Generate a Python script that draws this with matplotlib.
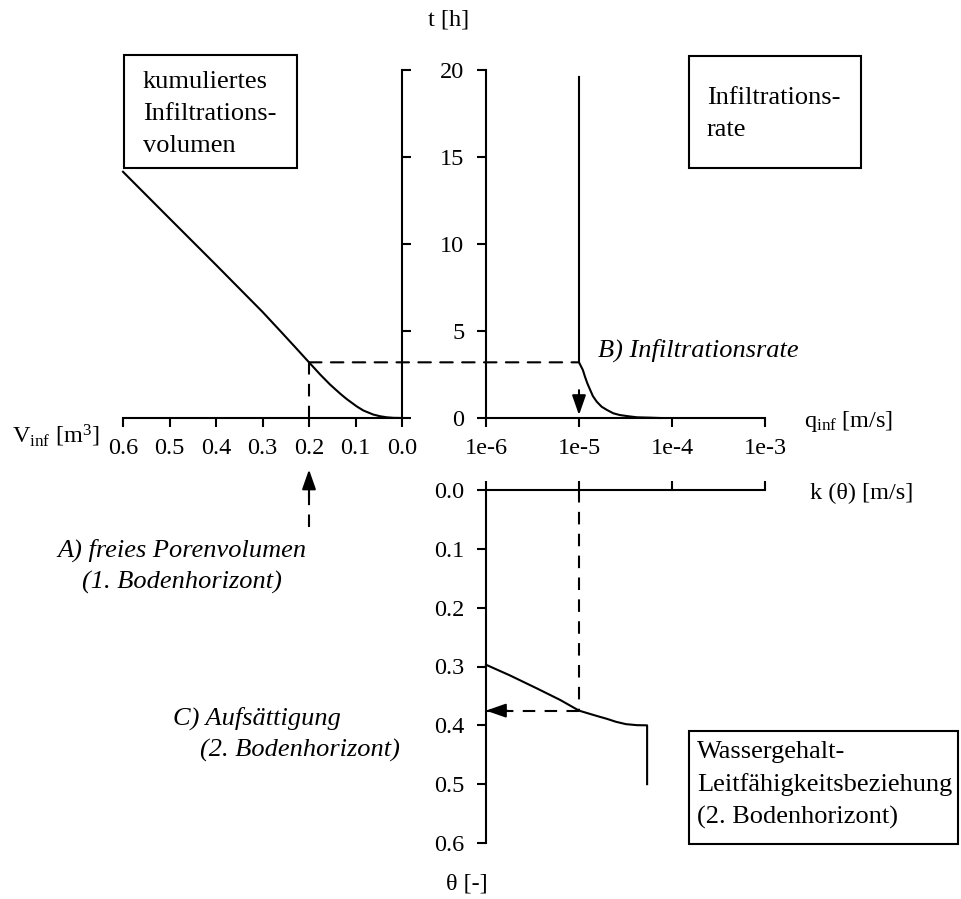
import matplotlib
matplotlib.use("Agg")
import matplotlib.pyplot as plt
from matplotlib.patches import ConnectionPatch, Rectangle
from matplotlib.ticker import NullLocator

# cumulative infiltration volume V_inf [m3] over time t [h]
V_CUM = [0.6, 0.5, 0.4, 0.3, 0.26, 0.23, 0.2, 0.176, 0.155, 0.133, 0.119,
         0.097, 0.083, 0.062, 0.047, 0.033, 0.019, 0.0]
T_CUM = [14.15, 11.47, 8.8, 6.1, 4.95, 4.08, 3.2, 2.5, 1.93, 1.40, 1.09,
         0.66, 0.43, 0.20, 0.10, 0.04, 0.01, 0.0]

# infiltration rate q_inf [m/s] over time t [h]
T_RATE = [19.6, 3.2, 2.76, 2.37, 1.99, 1.61, 1.26, 0.94, 0.65, 0.46, 0.27,
          0.17, 0.10, 0.04, 0.02, 0.0]
Q_RATE = [1e-5, 1e-5, 1.10e-5, 1.16e-5, 1.23e-5, 1.32e-5, 1.41e-5, 1.55e-5,
          1.75e-5, 2.0e-5, 2.34e-5, 2.75e-5, 3.4e-5, 4.2e-5, 5.75e-5, 7.4e-5]

# water content / conductivity relation of the 2nd soil horizon
K_THETA = [1e-6, 1.8e-6, 3.5e-6, 6.3e-6, 1e-5, 1.55e-5, 2.0e-5, 2.5e-5,
           3.2e-5, 4.2e-5, 5.4e-5, 5.4e-5]
THETA = [0.297, 0.315, 0.337, 0.357, 0.375, 0.384, 0.389, 0.394,
         0.398, 0.3997, 0.4, 0.5]

# read-off path A -> B -> C
V_PORE = 0.2
T_READ = 3.2
Q_READ = 1e-5
THETA_READ = 0.375

V_TICKS = [0.6, 0.5, 0.4, 0.3, 0.2, 0.1, 0.0]
T_TICKS = [0, 5, 10, 15, 20]
Q_TICKS = [1e-6, 1e-5, 1e-4, 1e-3]
Q_LABELS = ["1e-6", "1e-5", "1e-4", "1e-3"]
THETA_TICKS = [0.0, 0.1, 0.2, 0.3, 0.4, 0.5, 0.6]

W, H = 961, 899
LW = 1.5
DASH = (0, (6, 4.5))
TICK_FS = 17.5
TEXT_FS = 19

plt.rcParams.update({
    "font.family": "Liberation Serif",
    "mathtext.fontset": "custom",
    "mathtext.rm": "Liberation Serif",
    "mathtext.it": "Liberation Serif:italic",
})


def rect(left, top, right, bottom):
    return [left / W, 1 - bottom / H, (right - left) / W, (bottom - top) / H]


def fxy(x, y):
    return x / W, 1 - y / H


def style(ax, sides):
    for side, sp in ax.spines.items():
        sp.set_visible(side in sides)
        sp.set_linewidth(LW)
    ax.patch.set_visible(False)
    ax.tick_params(direction="out", length=6.5, width=LW, labelsize=TICK_FS, pad=8)


def head(ax, tip, base, trans):
    ax.annotate("", xy=tip, xycoords=trans, xytext=base, textcoords=trans,
                arrowprops=dict(arrowstyle="-|>,head_length=1.2,head_width=0.42",
                                mutation_scale=10, color="black", lw=LW,
                                shrinkA=0, shrinkB=0),
                annotation_clip=False)


fig = plt.figure(figsize=(W / 100, H / 100), dpi=100)

ax_v = fig.add_axes(rect(123, 70, 402, 418))
ax_q = fig.add_axes(rect(486, 70, 765, 418))
ax_k = fig.add_axes(rect(486, 490, 765, 843))

# cumulative volume, axis reversed so that it grows to the left
style(ax_v, ("bottom", "right"))
ax_v.plot(V_CUM, T_CUM, color="black", lw=LW, clip_on=False)
ax_v.set_xlim(0.6, 0.0)
ax_v.set_ylim(0, 20)
ax_v.set_xticks(V_TICKS, [f"{v:.1f}" for v in V_TICKS])
ax_v.yaxis.tick_right()
ax_v.set_yticks(T_TICKS)
ax_v.tick_params(axis="y", labelright=False)

# infiltration rate
style(ax_q, ("bottom", "left"))
ax_q.plot(Q_RATE, T_RATE, color="black", lw=LW, clip_on=False)
ax_q.set_xscale("log")
ax_q.set_xlim(1e-6, 1e-3)
ax_q.set_ylim(0, 20)
ax_q.set_xticks(Q_TICKS, Q_LABELS)
ax_q.xaxis.set_minor_locator(NullLocator())
ax_q.set_yticks(T_TICKS, [str(t) for t in T_TICKS])
ax_q.tick_params(axis="y", pad=9)

# conductivity vs. water content, theta pointing down
style(ax_k, ("top", "left"))
ax_k.plot(K_THETA, THETA, color="black", lw=LW, clip_on=False)
ax_k.set_xscale("log")
ax_k.set_xlim(1e-6, 1e-3)
ax_k.set_ylim(0.6, 0.0)
ax_k.xaxis.tick_top()
ax_k.set_xticks(Q_TICKS)
ax_k.xaxis.set_minor_locator(NullLocator())
ax_k.tick_params(axis="x", labeltop=False)
ax_k.set_yticks(THETA_TICKS, [f"{v:.1f}" for v in THETA_TICKS])
ax_k.tick_params(axis="y", pad=9)

# A) free pore volume -> time
ax_v.plot([V_PORE, V_PORE], [T_READ, 0], color="black", lw=LW, ls=DASH)
xt_v = ax_v.get_xaxis_transform()
ax_v.plot([V_PORE, V_PORE], [-0.313, -0.18], color="black", lw=LW, ls=DASH,
          transform=xt_v, clip_on=False)
head(ax_v, (V_PORE, -0.148), (V_PORE, -0.23), xt_v)

# time -> B) infiltration rate
fig.add_artist(ConnectionPatch(xyA=(V_PORE, T_READ), coordsA=ax_v.transData,
                               xyB=(Q_READ, T_READ), coordsB=ax_q.transData,
                               color="black", lw=LW, ls=DASH))
head(ax_q, (Q_READ, 0.17), (Q_READ, 1.6), ax_q.transData)

# rate = conductivity -> C) saturation water content
ax_k.plot([Q_READ, Q_READ], [0.0, THETA_READ], color="black", lw=LW, ls=DASH)
ax_k.plot([Q_READ, 1e-6], [THETA_READ, THETA_READ], color="black", lw=LW, ls=DASH)
yt_k = ax_k.get_yaxis_transform()
head(ax_k, (0.0, THETA_READ), (0.075, THETA_READ), yt_k)

# axis titles
fig.text(*fxy(449, 20), "t [h]", fontsize=TICK_FS, ha="center", va="center")
fig.text(*fxy(12, 443), r"V$_{\mathrm{inf}}$ [m$^3$]", fontsize=TICK_FS, ha="left", va="baseline")
fig.text(*fxy(804, 427), r"q$_{\mathrm{inf}}$ [m/s]", fontsize=TICK_FS, ha="left", va="baseline")
fig.text(*fxy(810, 499), "k (θ) [m/s]", fontsize=TICK_FS, ha="left", va="baseline")
fig.text(*fxy(467, 884), "θ [-]", fontsize=TICK_FS, ha="center", va="center")

# italic step annotations
fig.text(*fxy(182, 557), "A) freies Porenvolumen", fontsize=TEXT_FS, style="italic",
         ha="center", va="baseline")
fig.text(*fxy(182, 589), "(1. Bodenhorizont)", fontsize=TEXT_FS, style="italic",
         ha="center", va="baseline")
fig.text(*fxy(598, 357), "B) Infiltrationsrate", fontsize=TEXT_FS, style="italic",
         ha="left", va="baseline")
fig.text(*fxy(173, 725), "C) Aufsättigung", fontsize=TEXT_FS, style="italic",
         ha="left", va="baseline")
fig.text(*fxy(200, 757), "(2. Bodenhorizont)", fontsize=TEXT_FS, style="italic",
         ha="left", va="baseline")

# framed panel titles
boxes = [
    ((124, 55, 297, 168), 143, [88, 120, 152], ["kumuliertes", "Infiltrations-", "volumen"]),
    ((689, 56, 861, 168), 707, [104, 136], ["Infiltrations-", "rate"]),
    ((689, 731, 958, 844), 697, [758, 791, 824],
     ["Wassergehalt-", "Leitfähigkeitsbeziehung", "(2. Bodenhorizont)"]),
]
for (l, t, r, b), tx, baselines, lines in boxes:
    x0, y0 = fxy(l, b)
    fig.add_artist(Rectangle((x0, y0), (r - l) / W, (b - t) / H, transform=fig.transFigure,
                             fill=False, edgecolor="black", lw=LW))
    for y, line in zip(baselines, lines):
        fig.text(*fxy(tx, y), line, fontsize=TEXT_FS, ha="left", va="baseline")

fig.savefig("out.png", dpi=100)
